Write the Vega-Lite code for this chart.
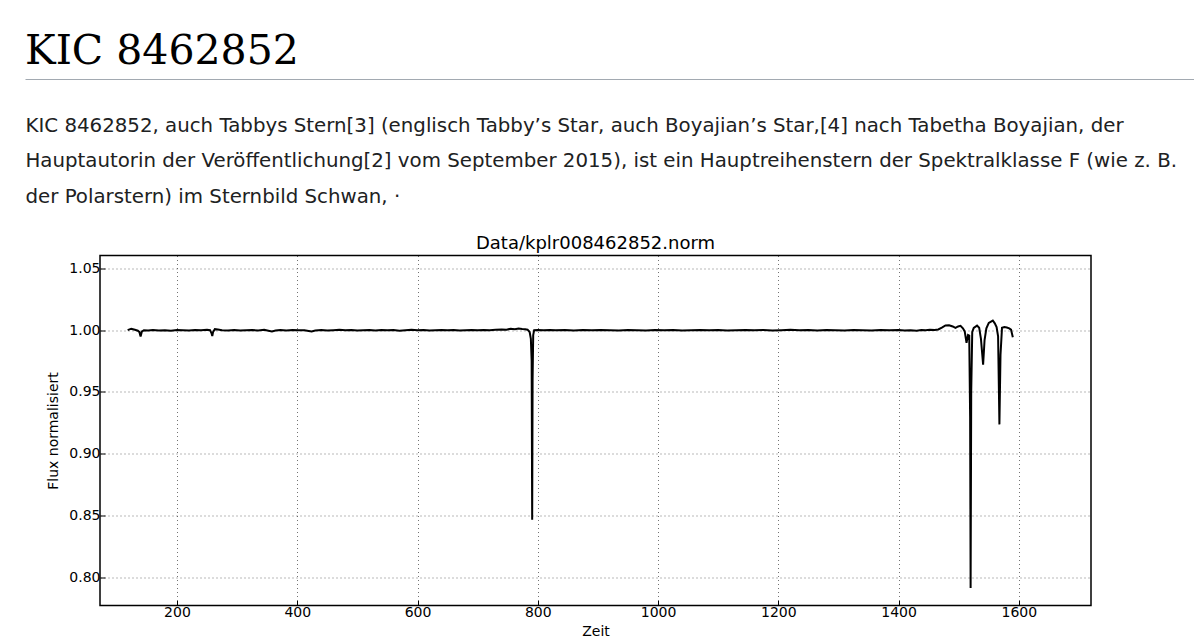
{
  "$schema": "https://vega.github.io/schema/vega-lite/v6.json",
  "padding": {"left": 25, "top": 31, "right": 0, "bottom": 0},
  "background": "white",
  "config": {"view": {"stroke": null}, "font": "DejaVu Sans"},
  "spacing": 26.5,
  "vconcat": [
    {
      "width": 1169,
      "height": 1,
      "title": {"text": "KIC 8462852", "anchor": "start", "font": "DejaVu Serif", "fontSize": 41, "fontWeight": "normal", "color": "#000", "baseline": "alphabetic", "offset": -27},
      "data": {"values": [{"v": 0}]},
      "mark": {"type": "point", "opacity": 0, "size": 0},
      "encoding": {
        "x": {
          "field": "v", "type": "quantitative", "scale": {"domain": [0, 1]},
          "axis": {
            "domain": true, "domainColor": "#a2a9b1", "domainWidth": 1.2, "ticks": false, "labels": false, "grid": false,
            "title": [
              "KIC 8462852, auch Tabbys Stern[3] (englisch Tabby’s Star, auch Boyajian’s Star,[4] nach Tabetha Boyajian, der",
              "Hauptautorin der Veröffentlichung[2] vom September 2015), ist ein Hauptreihenstern der Spektralklasse F (wie z. B.",
              "der Polarstern) im Sternbild Schwan, ·"
            ],
            "titleAnchor": "start", "titleAlign": "left", "titleFont": "DejaVu Sans", "titleFontSize": 19.8, "titleFontWeight": "normal",
            "titleColor": "#202122", "titleLineHeight": 35.8, "titleBaseline": "alphabetic", "titlePadding": 52
          }
        }
      }
    },
    {
      "spacing": 20,
      "hconcat": [
        {
          "width": 1, "height": 1,
          "data": {"values": [{"v": 0}]},
          "mark": {"type": "point", "opacity": 0, "size": 0},
          "encoding": {}
        },
        {
          "width": 991,
          "height": 350,
          "view": {"stroke": "#000", "strokeWidth": 1.5},
          "title": {"text": "Data/kplr008462852.norm", "font": "DejaVu Sans", "fontSize": 18, "fontWeight": "normal", "color": "#000", "baseline": "alphabetic", "offset": -11, "anchor": "middle"},
          "data": {"values": [
            {"t": 118, "flux": 1.0000}, {"t": 124, "flux": 1.0012}, {"t": 130, "flux": 1.0003}, {"t": 135, "flux": 0.9996},
            {"t": 137.5, "flux": 0.9985}, {"t": 139.5, "flux": 0.9948}, {"t": 141.5, "flux": 0.9988}, {"t": 145, "flux": 1.0000},
            {"t": 152, "flux": 0.9997}, {"t": 160, "flux": 1.0001}, {"t": 170, "flux": 0.9998}, {"t": 180, "flux": 1.0000},
            {"t": 190, "flux": 0.9996}, {"t": 200, "flux": 1.0001}, {"t": 210, "flux": 0.9999}, {"t": 220, "flux": 0.9997},
            {"t": 230, "flux": 1.0001}, {"t": 240, "flux": 1.0000}, {"t": 250, "flux": 1.0004}, {"t": 255, "flux": 1.0001},
            {"t": 257.5, "flux": 0.9975}, {"t": 258.7, "flux": 0.9952}, {"t": 260, "flux": 0.9985}, {"t": 263, "flux": 1.0008},
            {"t": 268, "flux": 1.0005}, {"t": 275, "flux": 1.0000}, {"t": 285, "flux": 0.9998}, {"t": 295, "flux": 1.0002},
            {"t": 305, "flux": 0.9997}, {"t": 315, "flux": 1.0000}, {"t": 325, "flux": 1.0001}, {"t": 335, "flux": 0.9998},
            {"t": 345, "flux": 1.0003}, {"t": 352, "flux": 0.9996}, {"t": 358, "flux": 0.9990}, {"t": 364, "flux": 0.9998},
            {"t": 372, "flux": 1.0001}, {"t": 382, "flux": 0.9997}, {"t": 392, "flux": 1.0002}, {"t": 402, "flux": 0.9999},
            {"t": 412, "flux": 1.0000}, {"t": 419, "flux": 0.9994}, {"t": 424, "flux": 0.9990}, {"t": 430, "flux": 0.9998},
            {"t": 440, "flux": 1.0002}, {"t": 450, "flux": 0.9998}, {"t": 460, "flux": 1.0000}, {"t": 470, "flux": 1.0003},
            {"t": 480, "flux": 0.9999}, {"t": 490, "flux": 1.0001}, {"t": 500, "flux": 0.9997}, {"t": 510, "flux": 1.0000},
            {"t": 520, "flux": 1.0002}, {"t": 530, "flux": 0.9998}, {"t": 540, "flux": 1.0001}, {"t": 550, "flux": 0.9999},
            {"t": 560, "flux": 1.0002}, {"t": 570, "flux": 0.9996}, {"t": 580, "flux": 1.0000}, {"t": 590, "flux": 1.0003},
            {"t": 600, "flux": 0.9999}, {"t": 610, "flux": 1.0001}, {"t": 620, "flux": 0.9998}, {"t": 630, "flux": 1.0000},
            {"t": 640, "flux": 1.0002}, {"t": 650, "flux": 0.9999}, {"t": 660, "flux": 1.0001}, {"t": 670, "flux": 0.9997},
            {"t": 680, "flux": 1.0000}, {"t": 690, "flux": 1.0002}, {"t": 700, "flux": 0.9999}, {"t": 710, "flux": 1.0001},
            {"t": 720, "flux": 1.0000}, {"t": 730, "flux": 1.0003}, {"t": 740, "flux": 1.0006}, {"t": 748, "flux": 1.0004},
            {"t": 755, "flux": 1.0012}, {"t": 762, "flux": 1.0008}, {"t": 768, "flux": 1.0014}, {"t": 774, "flux": 1.0010},
            {"t": 779, "flux": 1.0008}, {"t": 783, "flux": 1.0004}, {"t": 786.5, "flux": 0.9985}, {"t": 788.5, "flux": 0.9930},
            {"t": 789.8, "flux": 0.9750}, {"t": 790.7, "flux": 0.8466}, {"t": 791.4, "flux": 0.9600}, {"t": 792.4, "flux": 0.9960},
            {"t": 794, "flux": 1.0000}, {"t": 800, "flux": 1.0002}, {"t": 810, "flux": 0.9999}, {"t": 820, "flux": 1.0001},
            {"t": 830, "flux": 1.0000}, {"t": 845, "flux": 1.0002}, {"t": 860, "flux": 0.9998}, {"t": 875, "flux": 1.0001},
            {"t": 890, "flux": 0.9999}, {"t": 905, "flux": 1.0002}, {"t": 920, "flux": 1.0000}, {"t": 935, "flux": 0.9997},
            {"t": 950, "flux": 1.0001}, {"t": 965, "flux": 1.0000}, {"t": 980, "flux": 0.9998}, {"t": 995, "flux": 1.0002},
            {"t": 1010, "flux": 0.9999}, {"t": 1025, "flux": 1.0001}, {"t": 1040, "flux": 0.9998}, {"t": 1055, "flux": 1.0000},
            {"t": 1070, "flux": 1.0002}, {"t": 1085, "flux": 0.9999}, {"t": 1100, "flux": 1.0001}, {"t": 1115, "flux": 0.9997},
            {"t": 1130, "flux": 1.0000}, {"t": 1145, "flux": 1.0002}, {"t": 1160, "flux": 0.9999}, {"t": 1175, "flux": 1.0001},
            {"t": 1190, "flux": 0.9998}, {"t": 1205, "flux": 1.0000}, {"t": 1220, "flux": 1.0003}, {"t": 1235, "flux": 0.9999},
            {"t": 1250, "flux": 1.0001}, {"t": 1265, "flux": 0.9998}, {"t": 1280, "flux": 1.0002}, {"t": 1295, "flux": 1.0000},
            {"t": 1310, "flux": 0.9998}, {"t": 1325, "flux": 1.0001}, {"t": 1340, "flux": 1.0000}, {"t": 1355, "flux": 0.9997},
            {"t": 1370, "flux": 1.0002}, {"t": 1385, "flux": 0.9999}, {"t": 1400, "flux": 1.0001}, {"t": 1410, "flux": 0.9998},
            {"t": 1420, "flux": 1.0000}, {"t": 1430, "flux": 0.9996}, {"t": 1438, "flux": 1.0002}, {"t": 1445, "flux": 1.0000},
            {"t": 1452, "flux": 1.0003}, {"t": 1460, "flux": 1.0001}, {"t": 1466, "flux": 1.0006}, {"t": 1472, "flux": 1.0020},
            {"t": 1478, "flux": 1.0038}, {"t": 1484, "flux": 1.0040}, {"t": 1490, "flux": 1.0030}, {"t": 1494.6, "flux": 1.0018},
            {"t": 1499, "flux": 1.0030}, {"t": 1503, "flux": 1.0035}, {"t": 1507, "flux": 1.0015}, {"t": 1510, "flux": 0.9990},
            {"t": 1513, "flux": 0.9897}, {"t": 1515.5, "flux": 0.9960}, {"t": 1517.5, "flux": 0.9955}, {"t": 1519, "flux": 0.9300},
            {"t": 1519.8, "flux": 0.7915}, {"t": 1520.8, "flux": 0.9500}, {"t": 1522.5, "flux": 0.9985}, {"t": 1525, "flux": 1.0019},
            {"t": 1530.5, "flux": 1.0037}, {"t": 1534, "flux": 1.0020}, {"t": 1537, "flux": 0.9930}, {"t": 1540.6, "flux": 0.9720},
            {"t": 1543, "flux": 0.9920}, {"t": 1546, "flux": 1.0015}, {"t": 1550, "flux": 1.0059}, {"t": 1556.7, "flux": 1.0078},
            {"t": 1560, "flux": 1.0055}, {"t": 1563, "flux": 1.0025}, {"t": 1565.5, "flux": 0.9950}, {"t": 1567.7, "flux": 0.9238},
            {"t": 1569.5, "flux": 0.9800}, {"t": 1572, "flux": 1.0019}, {"t": 1576, "flux": 1.0025}, {"t": 1580, "flux": 1.0022},
            {"t": 1584, "flux": 1.0015}, {"t": 1587, "flux": 1.0005}, {"t": 1590, "flux": 0.9943}
          ]},
          "mark": {"type": "line", "color": "#000", "strokeWidth": 2, "clip": true},
          "encoding": {
            "x": {
              "field": "t", "type": "quantitative",
              "scale": {"domain": [72, 1720], "nice": false, "zero": false},
              "axis": {
                "title": "Zeit", "values": [200, 400, 600, 800, 1000, 1200, 1400, 1600], "format": "d",
                "labelFont": "DejaVu Sans", "labelFontSize": 14, "labelColor": "#000", "labelPadding": 5,
                "titleFont": "DejaVu Sans", "titleFontSize": 14, "titleFontWeight": "normal", "titleColor": "#000", "titlePadding": 5,
                "domain": false, "grid": true, "gridColor": "#000", "gridOpacity": 0.55, "gridDash": [1, 3],
                "ticks": true, "tickSize": -5, "tickColor": "#000"
              }
            },
            "y": {
              "field": "flux", "type": "quantitative",
              "scale": {"domain": [0.7773, 1.0604], "nice": false, "zero": false},
              "axis": {
                "title": "Flux normalisiert", "values": [0.8, 0.85, 0.9, 0.95, 1.0, 1.05], "format": ".2f",
                "labelFont": "DejaVu Sans", "labelFontSize": 14, "labelColor": "#000", "labelPadding": 5,
                "titleFont": "DejaVu Sans", "titleFontSize": 14, "titleFontWeight": "normal", "titleColor": "#000", "titlePadding": 8,
                "domain": false, "grid": true, "gridColor": "#000", "gridOpacity": 0.55, "gridDash": [1, 3],
                "ticks": true, "tickSize": -5, "tickColor": "#000"
              }
            }
          }
        }
      ]
    }
  ]
}
